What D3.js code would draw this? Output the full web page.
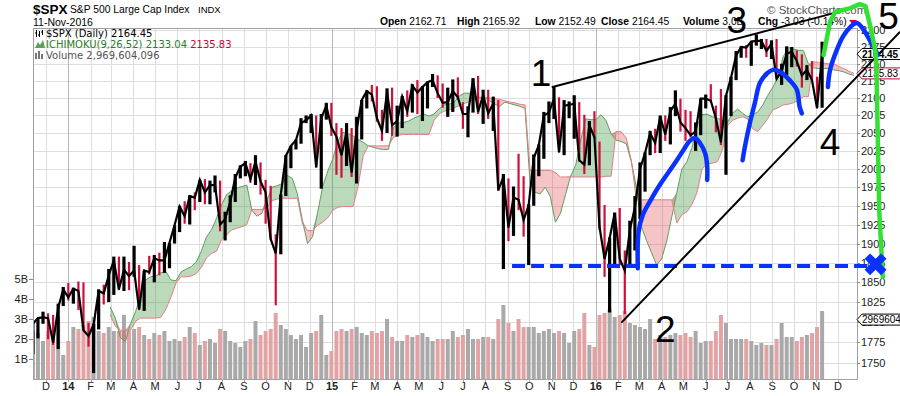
<!DOCTYPE html>
<html>
<head>
<meta charset="utf-8">
<script src="https://cdn.jsdelivr.net/npm/d3@7"></script>
<style>
  body { margin: 0; background: #fff; }
  svg { display: block; font-family: "Liberation Sans", Arial, sans-serif; }
</style>
</head>
<body>
<div id="vis"></div>
<script>
// weekly bars, first week ending Fri 15-Nov-2013, last 11-Nov-2016
const firstWeek = new Date(2013, 10, 15);

const weekClose = [
  1798, 1805, 1806, 1805, 1775, 1818, 1841,
  1831, 1842, 1839, 1790, 1783, 1797, 1839, 1836, 1859, 1878, 1841, 1866, 1858, 1865, 1816, 1865, 1863, 1881,
  1878, 1878, 1901, 1924, 1949, 1936, 1963, 1961, 1985, 1968, 1978, 1978, 1925, 1932, 1955, 1988, 2003, 2008,
  1986, 2010, 1983, 1968, 1906, 1887, 1965, 2018, 2032, 2040, 2064, 2068, 2075, 2002, 2071, 2089,
  2058, 2045, 2019, 2052, 1995, 2055, 2097, 2110, 2105, 2071, 2053, 2108, 2061, 2067, 2102, 2081, 2118, 2108,
  2116, 2123, 2126, 2107, 2093, 2094, 2110, 2101, 2077, 2077, 2127, 2080, 2104, 2078, 2092, 1971, 1989, 1921,
  1961, 1958, 1931, 1951, 2015, 2033, 2075, 2079, 2099, 2023, 2089, 2090, 2092, 2012, 2006, 2061, 2044,
  1922, 1880, 1907, 1940, 1880, 1865, 1918, 1948, 2000, 2022, 2050, 2036, 2073, 2048, 2081, 2092, 2065, 2057,
  2047, 2052, 2099, 2099, 2096, 2071, 2037, 2103, 2130, 2162, 2175, 2174, 2183, 2184, 2184, 2169, 2180, 2128,
  2139, 2165, 2168, 2154, 2133, 2141, 2126, 2085, 2164
];

const weekHigh = [
  1799, 1805, 1813, 1811, 1809, 1823, 1844,
  1849, 1843, 1851, 1850, 1799, 1798, 1841, 1847, 1867, 1883, 1883, 1883, 1876, 1897, 1872, 1865, 1884, 1885,
  1888, 1902, 1901, 1924, 1950, 1956, 1964, 1968, 1985, 1986, 1984, 1991, 1984, 1942, 1964, 1993, 2005, 2011,
  2008, 2019, 2009, 1985, 1977, 1912, 1965, 2019, 2032, 2041, 2071, 2075, 2077, 2075, 2077, 2093,
  2093, 2064, 2057, 2064, 2057, 2073, 2097, 2111, 2119, 2117, 2083, 2114, 2115, 2089, 2103, 2111, 2120, 2126,
  2117, 2124, 2135, 2133, 2121, 2115, 2127, 2130, 2094, 2088, 2129, 2132, 2112, 2112, 2102, 2097, 1993, 1987,
  1976, 2021, 1990, 1952, 2020, 2034, 2080, 2095, 2116, 2101, 2097, 2095, 2104, 2094, 2076, 2067, 2081,
  2038, 1951, 1908, 1941, 1947, 1891, 1930, 1963, 2009, 2023, 2053, 2056, 2075, 2075, 2087, 2111, 2099, 2083,
  2081, 2065, 2099, 2105, 2120, 2089, 2113, 2104, 2131, 2169, 2176, 2178, 2183, 2194, 2187, 2187, 2185, 2187,
  2150, 2176, 2175, 2170, 2164, 2148, 2154, 2131, 2183
];

const weekLow = [
  1761, 1780, 1798, 1779, 1772, 1767, 1820,
  1827, 1823, 1815, 1790, 1770, 1738, 1791, 1822, 1825, 1834, 1840, 1839, 1840, 1857, 1815, 1814, 1860, 1850,
  1859, 1862, 1868, 1900, 1915, 1926, 1925, 1944, 1955, 1952, 1952, 1968, 1916, 1904, 1928, 1955, 1987, 1990,
  1981, 1978, 1965, 1926, 1905, 1821, 1886, 1963, 2001, 2027, 2035, 2064, 2050, 2002, 1973, 2069,
  2046, 1992, 1988, 2004, 1989, 1980, 2041, 2085, 2095, 2066, 2039, 2050, 2046, 2045, 2057, 2073, 2079, 2077,
  2067, 2085, 2116, 2100, 2086, 2073, 2080, 2098, 2056, 2044, 2079, 2077, 2063, 2070, 2053, 1970, 1867, 1903,
  1910, 1944, 1909, 1872, 1950, 1990, 2014, 2064, 2070, 2023, 2019, 2071, 2042, 2010, 1993, 2005, 2043,
  1918, 1857, 1812, 1872, 1872, 1810, 1871, 1891, 1932, 1969, 2019, 2022, 2022, 2039, 2034, 2074, 2052, 2039,
  2044, 2025, 2047, 2085, 2094, 2051, 2033, 1992, 2074, 2126, 2159, 2159, 2147, 2177, 2172, 2160, 2157, 2128,
  2119, 2133, 2145, 2146, 2115, 2126, 2125, 2086, 2086
];

// volume, billions of shares
const weekVolume = [
  2.4, 2.3, 1.9, 2.4, 2.3, 3.1, 1.2,
  1.9, 2.6, 2.5, 2.7, 2.9, 3.1, 2.4, 2.3, 2.6, 2.4, 2.4, 3.2, 2.4, 2.5, 2.6, 2.2, 2.0, 2.3,
  2.2, 2.4, 1.9, 2.0, 1.9, 2.1, 2.6, 2.3, 1.7, 1.9, 2.0, 1.8, 2.5, 2.4, 1.9, 1.8, 1.6, 1.9,
  2.0, 2.9, 2.2, 2.4, 2.5, 3.3, 2.7, 2.5, 2.2, 2.0, 2.2, 1.6, 2.3, 2.4, 3.2, 1.2,
  1.4, 2.4, 2.5, 2.4, 2.5, 2.6, 2.3, 2.2, 2.4, 2.3, 2.4, 3.0, 2.1, 1.9, 1.9, 2.2, 2.1, 2.2,
  2.3, 2.1, 1.9, 2.0, 2.0, 2.0, 2.4, 2.1, 2.2, 2.5, 2.0, 2.0, 2.1, 2.1, 2.0, 3.0, 3.7, 2.8,
  2.4, 3.0, 2.6, 2.6, 2.6, 2.3, 2.4, 2.5, 2.3, 2.4, 2.3, 1.8, 2.4, 2.5, 3.3, 1.7, 1.6,
  3.2, 3.3, 3.5, 3.1, 3.2, 3.4, 2.8, 2.7, 2.6, 2.5, 3.0, 2.0, 2.2, 2.1, 2.2, 2.3, 2.2, 2.3,
  2.1, 2.4, 1.8, 1.9, 1.9, 2.4, 3.2, 2.8, 2.0, 2.0, 2.0, 2.0, 1.9, 1.7, 1.8, 1.7, 1.7, 2.0,
  2.8, 2.1, 2.1, 1.9, 2.1, 2.2, 2.3, 2.6, 3.4
];

// Ichimoku cloud (plotted 26 days ahead), weekly from Fri 28-Feb-2014
const cloudStart = new Date(2014, 1, 28);

const spanA = [
  1819, 1805, 1781, 1776, 1798, 1813, 1832, 1853, 1857, 1858, 1862, 1864, 1853, 1852, 1863, 1867, 1870, 1876,
  1890, 1908, 1918, 1933, 1951, 1965, 1970, 1974, 1976, 1978, 1944, 1936, 1940, 1958, 1975, 1977, 1980, 1991,
  1987, 1966, 1930, 1900, 1909, 1941, 1976, 1997, 2014, 2039, 2051, 2049, 2046, 2041, 2037, 2032, 2030, 2028,
  2027, 2027, 2058, 2064, 2065, 2067, 2071, 2074, 2077, 2074, 2077, 2084, 2090, 2091, 2094, 2103, 2107, 2107,
  2102, 2100, 2100, 2096, 2091, 2088, 2094, 2092, 2090, 2088, 2085, 1980, 1968, 1966, 1975, 1962, 1928, 1940,
  1965, 1990, 2005, 2040, 2070, 2069, 2069, 2076, 2068, 2049, 2040, 2038, 2035, 2010, 1975, 1922, 1904, 1888,
  1872, 1880, 1903, 1935, 1968, 2000, 2010, 2030, 2060, 2076, 2077, 2073, 2071, 2068, 2065, 2078, 2084, 2078,
  2073, 2076, 2080, 2090, 2104, 2116, 2130, 2160, 2174, 2172, 2170, 2170, 2150, 2144, 2143, 2143, 2143, 2141,
  2140, 2138, 2135, 2133
];

const spanB = [
  1809, 1795, 1790, 1790, 1790, 1801, 1805, 1805, 1805, 1805, 1806, 1816, 1831, 1849, 1857, 1857, 1858, 1861,
  1869, 1881, 1887, 1890, 1905, 1911, 1918, 1920, 1922, 1925, 1945, 1945, 1945, 1948, 1957, 1959, 1960, 1960,
  1960, 1960, 1926, 1917, 1917, 1924, 1928, 1934, 1944, 1948, 1949, 1949, 1949, 1976, 2018, 2032, 2032, 2032,
  2032, 2032, 2044, 2047, 2048, 2048, 2048, 2048, 2048, 2048, 2068, 2077, 2081, 2083, 2086, 2089, 2092, 2095,
  2098, 2101, 2101, 2100, 2099, 2098, 2096, 2094, 2093, 2091, 2090, 1998, 1998, 1998, 1998, 1998, 1995, 1989,
  1989, 1989, 1989, 1989, 1989, 1989, 1989, 1989, 1990, 1990, 2052, 2052, 2043, 2012, 1958, 1958, 1958, 1958,
  1958, 1958, 1958, 1958, 1927, 1938, 1942, 1952, 1968, 2000, 2007, 2008, 2010, 2026, 2060, 2068, 2071, 2073,
  2070, 2056, 2052, 2061, 2071, 2083, 2086, 2090, 2091, 2093, 2096, 2102, 2102, 2153, 2152, 2151, 2150, 2150,
  2146, 2143, 2139, 2136
];

const priceTicks = d3.range(1750, 2201, 25);
const volumeTicks = [1, 2, 3, 4, 5];

const quote = [
  ['Open', '2162.71', 380], ['High', '2165.92', 457], ['Low', '2152.49', 535],
  ['Close', '2164.45', 601], ['Volume', '3.0B', 683], ['Chg', '-3.03 (-0.14%)', 758]
];

// hand-drawn markup, in chart units (date, price)
const upperLine = [['2015-11-02', 2116], ['2016-12-15', 2232]];
const lowerLine = [['2016-02-06', 1800], ['2017-02-24', 2197]];
const supportLine = [['2015-09-07', 1871], ['2017-01-31', 1871]];
const crossMark = ['2017-01-22', 1873];
const greenPath = [
  ['2016-11-11', 2163], ['2016-11-20', 2213], ['2016-11-27', 2228], ['2016-12-18', 2234], ['2016-12-31', 2240],
  ['2017-01-08', 2237], ['2017-01-16', 2200], ['2017-01-22', 2167], ['2017-01-23', 2151], ['2017-01-27', 1944],
  ['2017-02-01', 1857]
];
const blueArcs = [
  [['2016-02-28', 1868], ['2016-02-29', 1915], ['2016-03-06', 1938], ['2016-03-17', 1958], ['2016-03-30', 1979],
   ['2016-04-13', 1999], ['2016-04-22', 2012], ['2016-05-01', 2026], ['2016-05-10', 2039], ['2016-05-17', 2043],
   ['2016-05-24', 2036], ['2016-05-31', 2022], ['2016-06-03', 2004], ['2016-06-03', 1985]],
  [['2016-07-22', 2012], ['2016-07-25', 2030], ['2016-08-01', 2064], ['2016-08-08', 2093], ['2016-08-15', 2122],
   ['2016-08-25', 2136], ['2016-09-02', 2141], ['2016-09-12', 2138], ['2016-09-25', 2126], ['2016-10-05', 2112],
   ['2016-10-09', 2087], ['2016-10-12', 2078]],
  [['2016-11-17', 2116], ['2016-11-20', 2141], ['2016-11-28', 2167], ['2016-12-08', 2191], ['2016-12-18', 2205],
   ['2016-12-27', 2211], ['2017-01-06', 2200], ['2017-01-14', 2185], ['2017-01-22', 2170], ['2017-01-25', 2163]]
];
const waveLabels = [
  ['1', '2015-10-17', 2117], ['2', '2016-04-06', 1776], ['3', '2016-07-14', 2196],
  ['4', '2016-11-20', 2019], ['5', '2017-02-09', 2202]
];

const plot = {left: 33, right: 857, top: 28, bottom: 379};
const parse = d3.timeParse('%Y-%m-%d');

const svg = d3.select('#vis').append('svg')
    .attr('width', 900)
    .attr('height', 396);

const x = d3.scaleTime()
    .domain([new Date(2014, 0, 1), new Date(2016, 11, 1)])
    .range([68.3, 838]);

const y = d3.scaleLog()
    .domain([1750, 2100])
    .range([363.1, 98]);

const yVol = d3.scaleLinear()
    .domain([0, 5])
    .range([plot.bottom, plot.bottom - 100]);

const weeks = weekClose.map((d, i) => d3.timeDay.offset(firstWeek, 7 * i));
const cloudWeeks = spanA.map((d, i) => d3.timeDay.offset(cloudStart, 7 * i));
const bars = weeks.map((date, i) => ({
  cx: x(d3.timeDay.offset(date, -2)),
  close: weekClose[i],
  high: weekHigh[i],
  low: weekLow[i],
  vol: weekVolume[i],
  up: i === 0 || weekClose[i] >= weekClose[i - 1]
}));
const cloud = cloudWeeks.map((date, i) => ({date, a: spanA[i], b: spanB[i]}));

svg.append('clipPath').attr('id', 'clip')
  .append('rect')
    .attr('x', plot.left)
    .attr('y', plot.top)
    .attr('width', plot.right - plot.left)
    .attr('height', plot.bottom - plot.top);

// grid
const months = d3.timeMonth.range(new Date(2013, 11, 1), new Date(2016, 11, 2));

svg.append('g')
  .selectAll('line')
  .data(priceTicks)
  .join('line')
    .attr('x1', plot.left)
    .attr('x2', plot.right)
    .attr('y1', d => Math.round(y(d)) + 0.5)
    .attr('y2', d => Math.round(y(d)) + 0.5)
    .attr('stroke', '#dddddd');

svg.append('g')
  .selectAll('line')
  .data(months)
  .join('line')
    .attr('x1', d => Math.round(x(d)) + 0.5)
    .attr('x2', d => Math.round(x(d)) + 0.5)
    .attr('y1', plot.top)
    .attr('y2', plot.bottom)
    .attr('stroke', d => d.getMonth() === 0 ? '#b8b8b8' : '#dddddd');

const body = svg.append('g').attr('clip-path', 'url(#clip)');

// volume
body.append('g')
  .selectAll('rect')
  .data(bars)
  .join('rect')
    .attr('x', d => d.cx - 2)
    .attr('width', 4)
    .attr('y', d => yVol(d.vol))
    .attr('height', d => plot.bottom - yVol(d.vol))
    .attr('fill', d => d.up ? '#a9a9a9' : '#e2a3a5');

// ichimoku cloud
const cloudUp = d3.area()
    .x(d => x(d.date))
    .y0(d => y(d.b))
    .y1(d => y(Math.max(d.a, d.b)));

const cloudDown = d3.area()
    .x(d => x(d.date))
    .y0(d => y(d.a))
    .y1(d => y(Math.max(d.a, d.b)));

body.append('path')
    .datum(cloud)
    .attr('d', cloudUp)
    .attr('fill', 'rgba(60, 150, 60, 0.35)');

body.append('path')
    .datum(cloud)
    .attr('d', cloudDown)
    .attr('fill', 'rgba(220, 60, 70, 0.3)');

body.append('path')
    .datum(cloud)
    .attr('d', d3.line().x(d => x(d.date)).y(d => y(d.a)))
    .attr('fill', 'none')
    .attr('stroke', '#5e9e5e');

body.append('path')
    .datum(cloud)
    .attr('d', d3.line().x(d => x(d.date)).y(d => y(d.b)))
    .attr('fill', 'none')
    .attr('stroke', '#e47d88');

// price: weekly high-low bars, joined by the closes
body.append('g')
  .selectAll('rect')
  .data(bars)
  .join('rect')
    .attr('x', d => d.cx - (d.up ? 1.6 : 1.1))
    .attr('width', d => d.up ? 3.2 : 2.2)
    .attr('y', d => y(d.high))
    .attr('height', d => y(d.low) - y(d.high))
    .attr('fill', d => d.up ? '#000' : '#d0103a');

body.append('path')
    .datum(bars)
    .attr('d', d3.line().x(d => d.cx).y(d => y(d.close)))
    .attr('fill', 'none')
    .attr('stroke', '#000')
    .attr('stroke-width', 2.2);

// frame
svg.append('rect')
    .attr('x', plot.left + 0.5)
    .attr('y', plot.top + 0.5)
    .attr('width', plot.right - plot.left)
    .attr('height', plot.bottom - plot.top)
    .attr('fill', 'none')
    .attr('stroke', '#a0a0a0');

// right price axis
const priceAxis = svg.append('g').attr('font-size', 11).attr('fill', '#222');
priceAxis.selectAll('line')
  .data(priceTicks)
  .join('line')
    .attr('x1', plot.right)
    .attr('x2', plot.right + 3)
    .attr('y1', d => Math.round(y(d)) + 0.5)
    .attr('y2', d => Math.round(y(d)) + 0.5)
    .attr('stroke', '#888');
priceAxis.selectAll('text')
  .data(priceTicks)
  .join('text')
    .attr('x', plot.right + 4)
    .attr('y', d => y(d) + 4)
    .text(d => d);

// left volume axis
const volAxis = svg.append('g').attr('font-size', 11).attr('fill', '#222');
volAxis.selectAll('line')
  .data(volumeTicks)
  .join('line')
    .attr('x1', plot.left - 4)
    .attr('x2', plot.left)
    .attr('y1', d => Math.round(yVol(d)) + 0.5)
    .attr('y2', d => Math.round(yVol(d)) + 0.5)
    .attr('stroke', '#888');
volAxis.selectAll('text')
  .data(volumeTicks)
  .join('text')
    .attr('x', plot.left - 5)
    .attr('y', d => yVol(d) + 4)
    .attr('text-anchor', 'end')
    .text(d => d + 'B');

// month axis
const monthAxis = svg.append('g').attr('font-size', 11).attr('fill', '#222');
monthAxis.selectAll('line')
  .data(months)
  .join('line')
    .attr('x1', d => Math.round(x(d)) + 0.5)
    .attr('x2', d => Math.round(x(d)) + 0.5)
    .attr('y1', plot.bottom)
    .attr('y2', plot.bottom + 3)
    .attr('stroke', '#aaa');
monthAxis.selectAll('text')
  .data(months)
  .join('text')
    .attr('x', d => x(d))
    .attr('y', 390)
    .attr('text-anchor', 'middle')
    .attr('font-weight', d => d.getMonth() === 0 ? 'bold' : 'normal')
    .text(d => d.getMonth() === 0 ? d3.timeFormat('%y')(d) : d3.timeFormat('%b')(d)[0]);

// value tags on the right edge
function tag(yPos, label, color, bold) {
  const g = svg.append('g');
  g.append('path')
      .attr('d', `M${plot.right},${yPos} l5,-5.5 h45 v11 h-45 z`)
      .attr('fill', '#fff')
      .attr('stroke', color);
  g.append('text')
      .attr('x', plot.right + 5)
      .attr('y', yPos + 3.5)
      .attr('font-size', 10)
      .attr('font-weight', bold ? 'bold' : 'normal')
      .text(label);
}
tag(y(2164.45), '2164.45', '#000', true);
tag(y(2135.83), '2135.83', '#cc0033', false);
tag(yVol(2.969604096), '2969604', '#000', false);

// header
svg.append('text').attr('x', 33).attr('y', 13.5)
    .attr('font-size', 13.5).attr('font-weight', 'bold').text('$SPX');
svg.append('text').attr('x', 70).attr('y', 12.5)
    .attr('font-size', 10.3).text('S&P 500 Large Cap Index');
svg.append('text').attr('x', 198).attr('y', 12.5)
    .attr('font-size', 9.5).text('INDX');
svg.append('text').attr('x', 33).attr('y', 25.5)
    .attr('font-size', 10.5).text('11-Nov-2016');
svg.append('text').attr('x', 767).attr('y', 13.5)
    .attr('font-size', 11.5).attr('fill', '#555').text('\u00a9 StockCharts.com');

const quoteText = svg.append('g').attr('font-size', 10.3);
quote.forEach(([label, value, pos]) => {
  const t = quoteText.append('text').attr('x', pos).attr('y', 25);
  t.append('tspan').attr('font-weight', 'bold').text(label + ' ');
  t.append('tspan').text(value);
});
svg.append('path')
    .attr('d', 'M849,20 h8 l-4,5 z')
    .attr('fill', '#cc0033');

// legend
const legend = svg.append('g')
    .attr('font-family', '"DejaVu Sans", Verdana, sans-serif')
    .attr('font-size', 10);
legend.append('path')
    .attr('d', 'M36.5,30 v7 M39.5,31 v6 M42.5,30 v5 M35,33 h2 M38,35 h2 M41,32 h2')
    .attr('stroke', '#000');
legend.append('text').attr('x', 46).attr('y', 37).text('$SPX (Daily) 2164.45');
legend.append('path')
    .attr('d', 'M35,48 L38,42 L40,45 L43,40 L45,48 Z')
    .attr('fill', '#5aa05a');
const ichi = legend.append('text').attr('x', 46).attr('y', 48);
ichi.append('tspan').attr('fill', '#2a7d2a').text('ICHIMOKU(9,26,52) 2133.04 ');
ichi.append('tspan').attr('fill', '#cc0033').text('2135.83');
legend.append('path')
    .attr('d', 'M35,53h2v6h-2z M38,51h2v8h-2z M41,54h2v5h-2z')
    .attr('fill', '#777');
legend.append('text').attr('x', 46).attr('y', 59).attr('fill', '#555')
    .text('Volume 2,969,604,096');

// markup
const pt = d => [x(parse(d[0])), y(d[1])];
const markLine = d3.line().x(d => pt(d)[0]).y(d => pt(d)[1]);
const markCurve = d3.line().x(d => pt(d)[0]).y(d => pt(d)[1]).curve(d3.curveCatmullRom);

const marks = svg.append('g').attr('fill', 'none').attr('stroke-linecap', 'round');

marks.append('path')
    .attr('d', markLine(supportLine))
    .attr('stroke', '#0a32ff')
    .attr('stroke-width', 4)
    .attr('stroke-linecap', 'butt')
    .attr('stroke-dasharray', '13,6');

marks.append('path')
    .attr('d', markLine(upperLine))
    .attr('stroke', '#000')
    .attr('stroke-width', 2);

marks.append('path')
    .attr('d', markLine(lowerLine))
    .attr('stroke', '#000')
    .attr('stroke-width', 2);

marks.selectAll('.arc')
  .data(blueArcs)
  .join('path')
    .attr('class', 'arc')
    .attr('d', markCurve)
    .attr('stroke', '#0a32ff')
    .attr('stroke-width', 4.5);

marks.append('path')
    .attr('d', markLine(greenPath))
    .attr('stroke', '#33e033')
    .attr('stroke-width', 4.5)
    .attr('stroke-linejoin', 'round');

const cross = pt(crossMark);
marks.append('path')
    .attr('transform', `translate(${cross[0]}, ${cross[1]}) rotate(45)`)
    .attr('d', d3.symbol(d3.symbolCross, 300)())
    .attr('fill', '#0a32ff')
    .attr('stroke', 'none');

svg.append('g')
    .attr('font-size', 37)
    .attr('text-anchor', 'middle')
  .selectAll('text')
  .data(waveLabels)
  .join('text')
    .attr('x', d => x(parse(d[1])))
    .attr('y', d => y(d[2]))
    .text(d => d[0]);
</script>
</body>
</html>
